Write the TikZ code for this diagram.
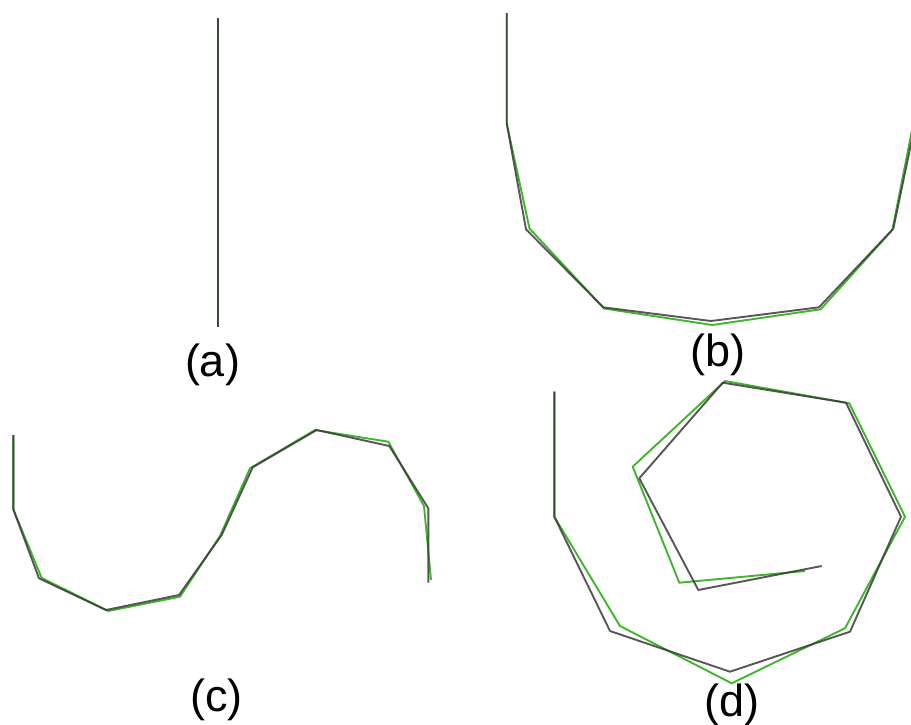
\documentclass[tikz,border=0pt]{standalone}
\usepackage{fontspec}
\setmainfont{Liberation Sans}
\definecolor{fitgreen}{RGB}{64,182,44}
\definecolor{refgray}{RGB}{58,58,58}
\tikzset{
  fitline/.style={fitgreen, line width=1.9pt, line join=round},
  refline/.style={refgray, line width=1.9pt, line join=round, opacity=0.85},
  caption/.style={inner sep=0pt, font=\fontsize{45}{50}\selectfont}
}
\begin{document}
\begin{tikzpicture}[x=1pt, y=-1pt]
  \useasboundingbox (0,0) rectangle (911,724);

  % (a)
  \draw[fitline] (218,18) -- (218,327);
  \draw[refline] (218,18) -- (218,327);
  \node[caption] (capa) at (212.5,365){(a)};

  % (b)
  \draw[fitline] (506.7,13) -- (506.7,123.3) -- (529.5,228.5) -- (604,308.5)
    -- (712.3,325) -- (820.7,309.3) -- (892.3,230) -- (913,125);
  \draw[refline] (506.7,13) -- (506.7,123.3) -- (526,229.3) -- (603.3,307.3)
    -- (711,321) -- (819,307.3) -- (893.3,228.7) -- (915.3,123.3);
  \node[caption] (capb) at (718,355){(b)};

  % (c)
  \draw[fitline] (13.3,435) -- (13.3,509.3) -- (41.7,578) -- (108.3,611)
    -- (180,596.7) -- (220,536) -- (250,468.3) -- (315,430)
    -- (388.3,441.7) -- (424,506) -- (431,580);
  \draw[refline] (13.3,435) -- (13.3,509.3) -- (39,578.3) -- (106,610)
    -- (179,595) -- (221.7,535) -- (252.7,467.3) -- (316.7,430)
    -- (389.3,446) -- (428.3,508.3) -- (428.3,582.7);
  \node[caption] (capc) at (216.7,700){(c)};

  % (d)
  \draw[fitline] (554.3,391.7) -- (554.3,516.7) -- (620,626) -- (731.7,683.3)
    -- (845,628.3) -- (905,516.7) -- (849.3,403.3) -- (725,381)
    -- (632.7,466.7) -- (679.3,582.7) -- (805,571);
  \draw[refline] (554.3,391.7) -- (554.3,516.7) -- (610,631) -- (730,671.7)
    -- (850,631.7) -- (901,516.7) -- (846,402.7) -- (722.7,382.7)
    -- (639.3,478.3) -- (698.3,590) -- (821.7,566);
  \node[caption] (capd) at (731.7,705){(d)};
\end{tikzpicture}
\end{document}
